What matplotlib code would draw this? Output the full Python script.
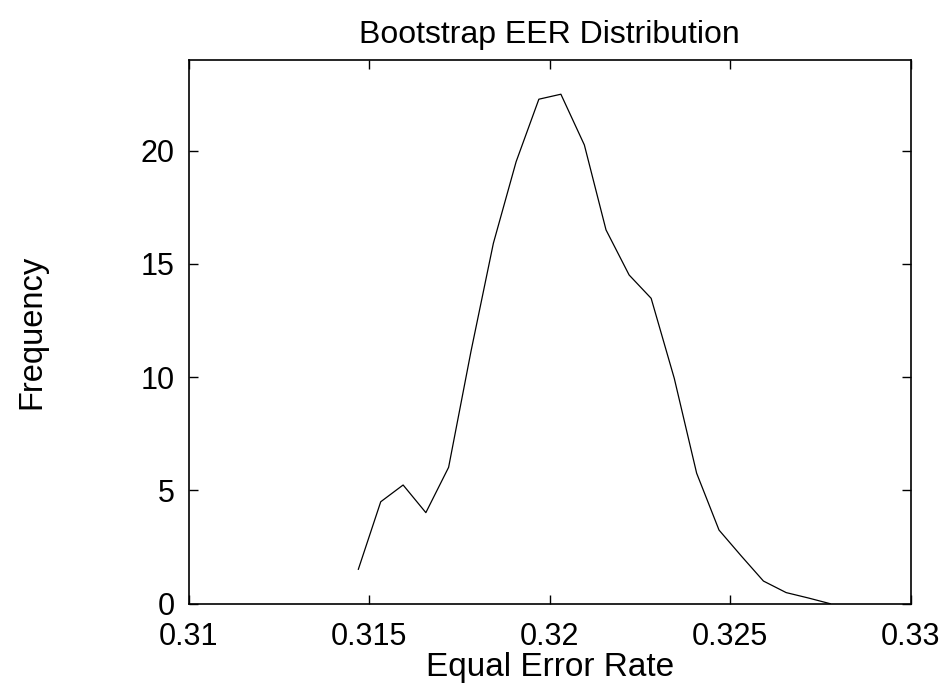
import matplotlib
matplotlib.use("Agg")
import matplotlib.pyplot as plt

plt.rcParams["font.family"] = ["Liberation Sans", "DejaVu Sans"]

# bootstrap EER histogram (bin centres and frequencies)
eer = [0.31470, 0.31532, 0.31594, 0.31657, 0.31720, 0.31782, 0.31844,
       0.31907, 0.31970, 0.32031, 0.32096, 0.32156, 0.32220, 0.32281,
       0.32345, 0.32407, 0.32469, 0.32531, 0.32592, 0.32655, 0.32717,
       0.32777]
freq = [1.52, 4.50, 5.24, 4.02, 6.02, 11.14, 15.91,
        19.51, 22.27, 22.49, 20.25, 16.50, 14.51, 13.48,
        9.95, 5.76, 3.25, 2.10, 1.00, 0.49, 0.25,
        0.00]

x_ticks = [0.31, 0.315, 0.32, 0.325, 0.33]
x_tick_labels = ["0.31", "0.315", "0.32", "0.325", "0.33"]
y_ticks = [0, 5, 10, 15, 20]

fig = plt.figure(figsize=(9.48, 6.89), dpi=100)
ax = fig.add_axes([0.199, 0.1238, 0.7617, 0.7891])

ax.plot(eer, freq, color="black", linewidth=0.9)

ax.set_xlim(0.31, 0.33)
ax.set_ylim(0, 24)
ax.set_xticks(x_ticks)
ax.set_xticklabels(x_tick_labels)
ax.set_yticks(y_ticks)

ax.tick_params(direction="in", length=6.5, width=1.0, labelsize=22,
               top=True, right=True)
ax.tick_params(axis="x", pad=13)
ax.tick_params(axis="y", pad=10)
for s in ax.spines.values():
    s.set_linewidth(1.2)

ax.set_title("Bootstrap EER Distribution", fontsize=23, pad=12)
ax.set_xlabel("Equal Error Rate", fontsize=24, labelpad=0)
ax.set_ylabel("Frequency", fontsize=23.5, labelpad=67)

fig.savefig("out.png", dpi=100)
